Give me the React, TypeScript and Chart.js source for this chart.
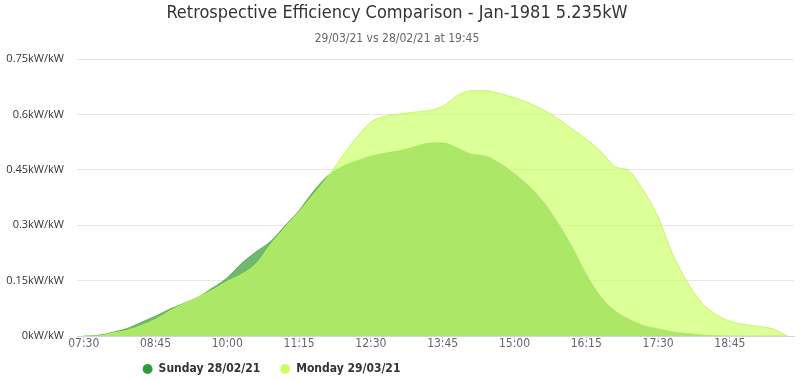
import React, { useEffect, useRef } from "react";
import { Chart, registerables } from "chart.js";

Chart.register(...registerables);

const TITLE = "Retrospective Efficiency Comparison - Jan-1981 5.235kW";
const SUBTITLE = "29/03/21 vs 28/02/21 at 19:45";

const TIMES = [
  "07:30", "07:45", "08:00", "08:15", "08:30", "08:45", "09:00", "09:15", "09:30", "09:45",
  "10:00", "10:15", "10:30", "10:45", "11:00", "11:15", "11:30", "11:45", "12:00", "12:15",
  "12:30", "12:45", "13:00", "13:15", "13:30", "13:45", "14:00", "14:15", "14:30", "14:45",
  "15:00", "15:15", "15:30", "15:45", "16:00", "16:15", "16:30", "16:45", "17:00", "17:15",
  "17:30", "17:45", "18:00", "18:15", "18:30", "18:45", "19:00", "19:15", "19:30", "19:45",
];

const SUNDAY = [
  0, 0.002, 0.01, 0.02, 0.037, 0.054, 0.073, 0.089, 0.106, 0.131,
  0.158, 0.197, 0.228, 0.256, 0.298, 0.34, 0.392, 0.434, 0.459, 0.474,
  0.487, 0.495, 0.502, 0.512, 0.522, 0.523, 0.509, 0.492, 0.487, 0.467,
  0.439, 0.406, 0.364, 0.307, 0.242, 0.167, 0.106, 0.068, 0.045, 0.028,
  0.019, 0.011, 0.007, 0.003, 0.001, 0, 0, 0, 0, 0,
];

const MONDAY = [
  0, 0, 0.008, 0.015, 0.028, 0.045, 0.068, 0.087, 0.106, 0.125,
  0.148, 0.167, 0.195, 0.247, 0.293, 0.336, 0.383, 0.431, 0.486, 0.537,
  0.579, 0.595, 0.601, 0.606, 0.61, 0.622, 0.65, 0.664, 0.664, 0.656,
  0.645, 0.631, 0.612, 0.589, 0.561, 0.533, 0.5, 0.459, 0.446, 0.392,
  0.322, 0.223, 0.148, 0.092, 0.059, 0.04, 0.031, 0.026, 0.019, 0,
];

const SERIES_NAMES = ["Sunday 28/02/21", "Monday 29/03/21"];
const Y_TICKS = [0, 0.15, 0.3, 0.45, 0.6, 0.75];
const X_TICK_LABELS = ["07:30", "08:45", "10:00", "11:15", "12:30", "13:45", "15:00", "16:15", "17:30", "18:45"];

const NARROW = '"Liberation Sans Narrow", "DejaVu Sans Condensed", "Roboto", sans-serif';
const SOLID = ["#2f9a3a", "#ccff66"];
const FILLS = ["rgba(51,153,51,0.7)", "rgba(204,255,102,0.68)"];
const LINES = ["rgba(51,153,51,0.55)", "rgba(190,245,90,0.9)"];
const LEGEND_PAD = 20;
const LEGEND_FONT = 12;

const toMin = (t: string) => {
  const [h, m] = t.split(":").map(Number);
  return h * 60 + m;
};
const fmtMin = (v: number) => {
  const h = Math.floor(v / 60);
  const m = Math.round(v - h * 60);
  return String(h).padStart(2, "0") + ":" + String(m).padStart(2, "0");
};

const layoutFixer = {
  id: "layoutFixer",
  afterLayout(chart: any) {
    const lg = chart.legend;
    if (lg) {
      const h = lg.height;
      lg.left = 0;
      lg.right = 543;
      lg.top = 369 - LEGEND_PAD - LEGEND_FONT / 2;
      lg.bottom = lg.top + h;
    }
    const x = chart.scales.x;
    if (x) {
      x.bottom = x.top + 30;
      x.height = 30;
    }
  },
};

export default function App() {
  const ref = useRef<HTMLCanvasElement>(null);
  useEffect(() => {
    if (!ref.current) return;
    const xTickMins = X_TICK_LABELS.map(toMin);
    const chart = new Chart(ref.current, {
      type: "line",
      data: {
        datasets: [
          {
            label: SERIES_NAMES[0],
            data: TIMES.map((t, i) => ({ x: toMin(t), y: SUNDAY[i] })),
            backgroundColor: FILLS[0],
            borderColor: LINES[0],
            borderWidth: 1,
            fill: "origin",
            pointRadius: 0,
            cubicInterpolationMode: "monotone",
            order: 2,
          },
          {
            label: SERIES_NAMES[1],
            data: TIMES.map((t, i) => ({ x: toMin(t), y: MONDAY[i] })),
            backgroundColor: FILLS[1],
            borderColor: LINES[1],
            borderWidth: 1,
            fill: "origin",
            pointRadius: 0,
            cubicInterpolationMode: "monotone",
            order: 1,
          },
        ],
      },
      options: {
        animation: false,
        responsive: true,
        maintainAspectRatio: false,
        layout: { padding: { left: 0, right: 6, top: 0, bottom: 0 } },
        plugins: {
          title: {
            display: true,
            text: TITLE,
            color: "#333333",
            font: { family: NARROW, size: 18, weight: "normal" },
            padding: { top: 3, bottom: 4 },
          },
          subtitle: {
            display: true,
            text: SUBTITLE,
            color: "#666666",
            font: { family: NARROW, size: 12, weight: "normal" },
            padding: { top: 3, bottom: 13 },
          },
          legend: {
            position: "bottom",
            labels: {
              usePointStyle: true,
              pointStyle: "circle",
              boxWidth: 10,
              boxHeight: 7,
              padding: LEGEND_PAD,
              color: "#333333",
              font: { family: NARROW, size: LEGEND_FONT, weight: "bold" },
              generateLabels: (c: any) => {
                const items = (Chart.defaults.plugins.legend.labels as any).generateLabels(c);
                items.forEach((it: any) => {
                  it.fillStyle = SOLID[it.datasetIndex];
                  it.strokeStyle = SOLID[it.datasetIndex];
                  it.lineWidth = 0;
                  it.pointStyle = "circle";
                });
                return items.sort((a: any, b: any) => a.datasetIndex - b.datasetIndex);
              },
            },
          },
          tooltip: { enabled: false },
        },
        scales: {
          x: {
            type: "linear",
            min: 443,
            max: 1192,
            afterBuildTicks: (axis: any) => {
              axis.ticks = xTickMins.map((v) => ({ value: v }));
            },
            afterFit: (s: any) => {
              s.height = 380 - 326 - (LEGEND_PAD * 2 + LEGEND_FONT);
            },
            ticks: {
              callback: (v: any) => fmtMin(Number(v)),
              color: "#666666",
              font: { family: NARROW, size: 12 },
              padding: -5,
              maxRotation: 0,
              autoSkip: false,
            },
            grid: { drawOnChartArea: false, drawTicks: true, tickLength: 6, color: "#ccd6eb" },
            border: { color: "#ccd6eb" },
          },
          y: {
            min: 0,
            max: 0.75,
            afterBuildTicks: (axis: any) => {
              axis.ticks = Y_TICKS.map((v) => ({ value: v }));
            },
            afterFit: (s: any) => {
              s.width = 77;
            },
            ticks: {
              callback: (v: any) => String(Math.round(Number(v) * 100) / 100) + "kW/kW",
              color: "#333333",
              font: { family: '"Open Sans", sans-serif', size: 11 },
              padding: 13,
            },
            grid: { color: "#e6e6e6", drawTicks: false },
            border: { display: false },
          },
        },
      } as any,
      plugins: [layoutFixer],
    });
    return () => chart.destroy();
  }, []);
  return (
    <div style={{ position: "fixed", left: 0, top: 0, width: 800, height: 380, background: "#fff" }}>
      <canvas ref={ref} />
    </div>
  );
}
